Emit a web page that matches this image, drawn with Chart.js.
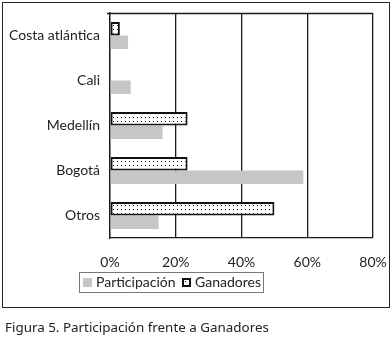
<!DOCTYPE html>
<html>
<head>
<meta charset="utf-8">
<script src="https://cdn.jsdelivr.net/npm/chart.js@4"></script>
<style>
  html,body{margin:0;padding:0;background:#fff;}
  #wrap{position:absolute;left:0;top:0;width:392px;height:340px;}
  #frame{position:absolute;left:2px;top:2px;width:388px;height:306px;border:1.5px solid #222;box-sizing:border-box;pointer-events:none;}
  #c{position:absolute;left:0;top:0;}
  #cap{position:absolute;left:5px;top:318px;font-family:"Noto Sans",sans-serif;font-size:13.4px;color:#222;white-space:nowrap;}
</style>
</head>
<body>
<div id="wrap">
  <canvas id="c" width="392" height="310"></canvas>
  <div id="frame"></div>
  <div id="cap">Figura 5. Participación frente a Ganadores</div>
</div>
<script>
const categories = ["Costa atlántica", "Cali", "Medellín", "Bogotá", "Otros"];
const participacion = [5.5, 6.3, 16.0, 58.8, 14.8];
const ganadores = [3.0, 0, 23.6, 23.6, 50.0];
const xTicks = [0, 20, 40, 60, 80];

const FONT = "Lato";
const canvas = document.getElementById('c');
const ctx = canvas.getContext('2d');

// dotted pattern
const pc = document.createElement('canvas');
pc.width = 4; pc.height = 4;
const pctx = pc.getContext('2d');
pctx.fillStyle = '#fff'; pctx.fillRect(0,0,4,4);
pctx.fillStyle = '#111'; pctx.fillRect(1,1,1,1);
const dots = ctx.createPattern(pc, 'repeat');

const GRAY = '#c6c6c6';

const extras = {
  id: 'extras',
  afterDraw(chart) {
    const c = chart.ctx, a = chart.chartArea;
    c.save();
    // top border of plot
    c.strokeStyle = '#1a1a1a'; c.lineWidth = 1.3;
    c.beginPath(); c.moveTo(a.left - 3, a.top + 0.5); c.lineTo(a.right, a.top + 0.5); c.stroke();
    // legend
    const lx = 79, ly = 272, lw = 184, lh = 20;
    c.strokeStyle = '#777'; c.lineWidth = 1;
    c.strokeRect(lx + 0.5, ly + 0.5, lw, lh);
    c.font = '14px ' + FONT; c.textBaseline = 'middle'; c.fillStyle = '#222';
    const cy = ly + lh/2 + 0.5;
    // Participación
    c.fillStyle = GRAY; c.fillRect(83, cy - 4.5, 9, 9);
    c.fillStyle = '#222'; c.fillText(chart.data.datasets[1].label, 96, cy);
    // Ganadores
    c.fillStyle = dots; c.fillRect(182, cy - 4.5, 9, 9);
    c.strokeStyle = '#111'; c.lineWidth = 2; c.strokeRect(183, cy - 3.5, 7, 7);
    c.fillStyle = '#222'; c.fillText(chart.data.datasets[0].label, 195, cy);
    c.restore();
  }
};

new Chart(canvas, {
  type: 'bar',
  data: {
    labels: categories,
    datasets: [
      { label: 'Ganadores', data: ganadores, backgroundColor: dots, borderColor: '#111', borderWidth: 2, borderSkipped: false },
      { label: 'Participación', data: participacion, backgroundColor: GRAY, borderWidth: 0 }
    ]
  },
  options: {
    indexAxis: 'y',
    responsive: false,
    animation: false,
    devicePixelRatio: 1,
    categoryPercentage: 0.6,
    barPercentage: 1.0,
    layout: { padding: { top: 13, right: 19, bottom: 42, left: 0 } },
    plugins: { legend: { display: false }, tooltip: { enabled: false } },
    scales: {
      x: {
        min: 0, max: 80,
        afterBuildTicks(s) { s.ticks = xTicks.map(v => ({ value: v })); },
        afterFit(s) { s.height = 30; },
        grid: { color: '#1a1a1a', lineWidth: 1.3, drawTicks: true, tickLength: 16, tickColor: 'rgba(0,0,0,0)' },
        border: { display: true, color: '#1a1a1a', width: 1.3 },
        ticks: { padding: 0, color: '#222', font: { family: FONT, size: 14 }, callback: v => v + '%', maxRotation: 0 }
      },
      y: {
        afterFit(s) { s.width = 110; },
        grid: { display: true, drawOnChartArea: false, color: 'rgba(0,0,0,0)', drawTicks: true, tickLength: 10, tickColor: 'rgba(0,0,0,0)' },
        border: { display: true, color: '#1a1a1a', width: 1.3 },
        ticks: { padding: 0, color: '#222', font: { family: FONT, size: 14 } }
      }
    }
  },
  plugins: [extras]
});
</script>
</body>
</html>
